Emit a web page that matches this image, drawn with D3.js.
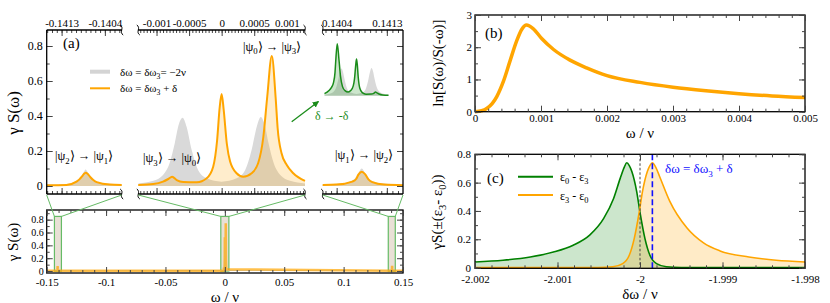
<!DOCTYPE html>
<html><head><meta charset="utf-8">
<script src="https://cdn.jsdelivr.net/npm/d3@7"></script>
<style>
body{margin:0;background:#fff;}
svg, svg text{font-family:"Liberation Serif",serif;}
</style></head><body>
<svg id="fig" width="830" height="303"></svg>
<script>
// ---------- data ----------
// panel (a): three windows of the spectrum gamma*S(omega)
const segLeft = [-0.14161, -0.14005];
const segMid = [-0.00128, 0.00128];
const segRight = [0.14015, 0.14159];

const leftOrange = [[-0.14161,0.004],[-0.1412,0.006],[-0.14099,0.025],[-0.14093,0.038],[-0.14088,0.053],[-0.14084,0.068],[-0.1408,0.076],[-0.14076,0.07],[-0.1407,0.05],[-0.14064,0.034],[-0.14057,0.022],[-0.1403,0.008],[-0.14005,0.006]];
const leftGray = [[-0.14161,0.008],[-0.1412,0.012],[-0.14105,0.022],[-0.14096,0.034],[-0.14088,0.058],[-0.14084,0.08],[-0.1408,0.095],[-0.14076,0.08],[-0.14072,0.058],[-0.14064,0.034],[-0.14055,0.022],[-0.1404,0.014],[-0.14005,0.009]];

const midOrange = [[-0.00128,0.006],[-0.00105,0.011],[-0.0009,0.025],[-0.00082,0.04],[-0.00076,0.053],[-0.00069,0.034],[-0.00059,0.023],[-0.00038,0.021],[-0.00023,0.044],[-0.00013,0.11],[-0.00007,0.26],[-0.00003,0.45],[0,0.526],[0.00003,0.44],[0.00008,0.24],[0.00013,0.14],[0.00023,0.073],[0.00033,0.053],[0.00046,0.073],[0.00056,0.13],[0.00064,0.28],[0.0007,0.51],[0.00077,0.743],[0.00083,0.5],[0.00086,0.33],[0.00092,0.187],[0.001,0.12],[0.0011,0.073],[0.00128,0.029]];
const midGray = [[-0.00128,0.015],[-0.00105,0.03],[-0.0009,0.063],[-0.0008,0.13],[-0.00072,0.244],[-0.00066,0.35],[-0.0006,0.39],[-0.00054,0.34],[-0.00046,0.206],[-0.00036,0.09],[-0.00023,0.044],[0,0.025],[0.00023,0.044],[0.00036,0.09],[0.00046,0.206],[0.00054,0.34],[0.0006,0.395],[0.00066,0.35],[0.00072,0.244],[0.0008,0.13],[0.0009,0.063],[0.00105,0.03],[0.00128,0.015]];

const rightOrange = [[0.14015,0.006],[0.1404,0.008],[0.14068,0.025],[0.14075,0.04],[0.14079,0.065],[0.14085,0.082],[0.14091,0.068],[0.14097,0.038],[0.14104,0.022],[0.14125,0.008],[0.14159,0.005]];
const rightGray = [[0.14015,0.009],[0.1404,0.013],[0.1406,0.022],[0.1407,0.036],[0.14077,0.06],[0.14081,0.085],[0.14085,0.1],[0.14089,0.085],[0.14093,0.06],[0.141,0.036],[0.1411,0.022],[0.1413,0.013],[0.14159,0.009]];

const topTicksLeft = [-0.1413, -0.1404];
const topTicksMid = [-0.001, -0.0005, 0, 0.0005, 0.001];
const topTicksRight = [0.1404, 0.1413];

// lower overview of panel (a)
const lowXTicks = [-0.15, -0.1, -0.05, 0, 0.05, 0.1, 0.15];
const lowEnds = [-0.15, 0.15];
const zoomBoxes = [[-0.1435, -0.1376], [-0.0034, 0.0034], [0.1376, 0.1435]];

// panel (b)
const bOmega = [0,0.0001,0.000177,0.00026,0.00033,0.00043,0.00053,0.00063,0.00071,0.00078,0.00088,0.00101,0.00119,0.00144,0.00169,0.002,0.0025,0.003,0.0035,0.004,0.0045,0.005];
const bLnRatio = [0.0,0.03,0.1,0.25,0.47,0.94,1.57,2.19,2.56,2.69,2.58,2.27,1.93,1.6,1.36,1.12,0.91,0.76,0.65,0.56,0.49,0.44];

// panel (c)
const cGreen = [[-2.002,0.04],[-2.00166,0.052],[-2.00133,0.075],[-2.00105,0.11],[-2.00081,0.158],[-2.00061,0.229],[-2.00044,0.347],[-2.00032,0.488],[-2.00024,0.63],[-2.00019,0.71],[-2.00016,0.74],[-2.00013,0.72],[-2.0001,0.68],[-2.00004,0.536],[-2.0,0.39],[-1.99994,0.205],[-1.99988,0.087],[-1.9998,0.028],[-1.99968,0.006],[-1.9995,0.001],[-1.998,0]];
const cOrange = [[-2.002,0],[-2.00051,0.001],[-2.00033,0.006],[-2.00021,0.028],[-2.00013,0.087],[-2.00007,0.205],[-2.00001,0.39],[-1.99997,0.536],[-1.99991,0.68],[-1.99988,0.72],[-1.99985,0.74],[-1.99981,0.71],[-1.99976,0.64],[-1.99964,0.47],[-1.99943,0.28],[-1.99923,0.175],[-1.99903,0.118],[-1.99868,0.075],[-1.99835,0.052],[-1.998,0.04]];
const cCenter = -2.0;
const cShifted = -1.99985;

// ---------- helpers ----------
const svg = d3.select("#fig");
const FONT = "'Liberation Serif', serif";
const ORANGE = "#ffa500";
const stepVals = (a, b, s) => d3.range(Math.round(a / s), Math.round(b / s) + 1).map(k => +(k * s).toFixed(7));

function ticks(axisFn, scale, pos, major, minor, labelled, fs, pad) {
  const g = svg.append("g");
  const gm = g.append("g").attr("transform", pos)
    .call(axisFn(scale).tickValues(minor).tickSizeInner(-3).tickSizeOuter(0).tickFormat(""));
  gm.select(".domain").remove();
  const gM = g.append("g").attr("transform", pos)
    .call(axisFn(scale).tickValues(major).tickSizeInner(-6).tickSizeOuter(0).tickPadding(pad || 4)
      .tickFormat(labelled ? (d => String(d)) : ""));
  gM.select(".domain").remove();
  g.selectAll("g").attr("font-family", null);
  gM.selectAll("text").style("font-family", FONT).attr("font-size", fs).attr("fill", "#000");
  g.selectAll("line").attr("stroke", "#444");
  return g;
}

function rich(sel, parts, dy) {
  let pending = 0;
  parts.forEach(p => {
    if (typeof p === "string") {
      sel.append("tspan").attr("dy", pending).text(p);
      pending = 0;
    } else {
      sel.append("tspan").attr("dy", dy).attr("font-size", "0.7em").text(p.sub);
      pending = -dy;
    }
  });
  return sel;
}

function label(x, y, fs, parts, opts) {
  opts = opts || {};
  const t = svg.append("text").attr("x", x).attr("y", y).attr("font-size", fs)
    .style("font-family", FONT)
    .attr("fill", opts.fill || "#000").attr("text-anchor", opts.anchor || "start");
  if (opts.rotate) t.attr("transform", `rotate(-90,${x},${y})`);
  return rich(t, parts, opts.dy || fs * 0.28);
}

function breakMark(x, y) {
  svg.append("path")
    .attr("d", `M${x - 1.5},${y - 5} C${x + 3},${y - 2} ${x - 3},${y + 2} ${x + 1.5},${y + 5}`)
    .attr("fill", "none").attr("stroke", "#000").attr("stroke-width", 1);
}

// ---------- panel (a) upper ----------
const aTop = 30, aBot = 194, aLeft = 46.7, aRight = 403;
const yA = d3.scaleLinear().domain([0, 0.8]).range([186, 46]);
const segs = [
  { dom: segLeft, rng: [46.7, 121.7], orange: leftOrange, gray: leftGray, major: topTicksLeft, minor: stepVals(-0.1416, -0.1401, 0.0001) },
  { dom: segMid, rng: [138.3, 305], orange: midOrange, gray: midGray, major: topTicksMid, minor: stepVals(-0.00125, 0.00125, 0.00005) },
  { dom: segRight, rng: [322.7, 403], orange: rightOrange, gray: rightGray, major: topTicksRight, minor: stepVals(0.1402, 0.1415, 0.0001) }
];

segs.forEach(s => {
  s.x = d3.scaleLinear().domain(s.dom).range(s.rng);
  const area = d3.area().x(d => s.x(d[0])).y0(yA(0)).y1(d => yA(d[1])).curve(d3.curveMonotoneX);
  const line = d3.line().x(d => s.x(d[0])).y(d => yA(d[1])).curve(d3.curveMonotoneX);
  svg.append("path").datum(s.gray).attr("d", area).attr("fill", "#d9d9d9");
  svg.append("path").datum(s.orange).attr("d", area).attr("fill", ORANGE).attr("fill-opacity", 0.2);
  svg.append("path").datum(s.orange).attr("d", line).attr("fill", "none").attr("stroke", ORANGE).attr("stroke-width", 2);
  ticks(d3.axisTop, s.x, `translate(0,${aTop})`, s.major, s.minor, true, 11, 3);
  ticks(d3.axisBottom, s.x, `translate(0,${aBot})`, s.major, s.minor, false, 11);
  svg.append("line").attr("x1", s.rng[0]).attr("x2", s.rng[1]).attr("y1", aTop).attr("y2", aTop).attr("stroke", "#000").attr("stroke-width", 1.3);
  svg.append("line").attr("x1", s.rng[0]).attr("x2", s.rng[1]).attr("y1", aBot).attr("y2", aBot).attr("stroke", "#000").attr("stroke-width", 1.3);
});
[segs[0].rng[1], segs[1].rng[0], segs[1].rng[1], segs[2].rng[0]].forEach(x => { breakMark(x, aTop); breakMark(x, aBot); });

const yAfull = yA.copy().domain([yA.invert(aBot), yA.invert(aTop)]).range([aBot, aTop]);
ticks(d3.axisLeft, yAfull, `translate(${aLeft},0)`, [0, 0.2, 0.4, 0.6, 0.8], stepVals(0, 0.8, 0.1), true, 12, 4);
ticks(d3.axisRight, yAfull, `translate(${aRight},0)`, [0, 0.2, 0.4, 0.6, 0.8], stepVals(0, 0.8, 0.1), false, 12);
svg.append("line").attr("x1", aLeft).attr("x2", aLeft).attr("y1", aTop).attr("y2", aBot).attr("stroke", "#000").attr("stroke-width", 1.3);
svg.append("line").attr("x1", aRight).attr("x2", aRight).attr("y1", aTop).attr("y2", aBot).attr("stroke", "#000").attr("stroke-width", 1.3);

// inset: delta -> -delta (mirror of the middle window)
const xIn = d3.scaleLinear().domain(segMid).range([324.5, 388.5]);
const xInMirror = d3.scaleLinear().domain(segMid).range([388.5, 324.5]);
const yIn = d3.scaleLinear().domain([0, 1]).range([95.7, 25.7]);
svg.append("path").datum(midGray)
  .attr("d", d3.area().x(d => xIn(d[0])).y0(yIn(0)).y1(d => yIn(d[1])).curve(d3.curveMonotoneX))
  .attr("fill", "#d9d9d9");
svg.append("path").datum(midOrange)
  .attr("d", d3.area().x(d => xInMirror(d[0])).y0(yIn(0)).y1(d => yIn(d[1])).curve(d3.curveMonotoneX))
  .attr("fill", "#008000").attr("fill-opacity", 0.2);
svg.append("path").datum(midOrange)
  .attr("d", d3.line().x(d => xInMirror(d[0])).y(d => yIn(d[1])).curve(d3.curveMonotoneX))
  .attr("fill", "none").attr("stroke", "#1a8c1a").attr("stroke-width", 1.5);

svg.append("defs").append("marker").attr("id", "ah").attr("viewBox", "0 0 10 10")
  .attr("refX", 9).attr("refY", 5).attr("markerWidth", 5).attr("markerHeight", 5).attr("orient", "auto")
  .append("path").attr("d", "M0,0 L10,5 L0,10 Z").attr("fill", "#1a8c1a");
svg.append("line").attr("x1", 291.7).attr("y1", 121.7).attr("x2", 318.5).attr("y2", 101.5)
  .attr("stroke", "#1a8c1a").attr("stroke-width", 1.3).attr("marker-end", "url(#ah)");
label(315, 120, 12, ["δ → -δ"], { fill: "#1a8c1a" });

// labels, legend
label(63, 48, 15, ["(a)"]);
svg.append("line").attr("x1", 90).attr("x2", 110).attr("y1", 71.7).attr("y2", 71.7).attr("stroke", "#d4d4d4").attr("stroke-width", 4);
label(120, 75.5, 11, ["δω = δω", { sub: "3" }, "= −2ν"]);
svg.append("line").attr("x1", 90).attr("x2", 110).attr("y1", 88.3).attr("y2", 88.3).attr("stroke", ORANGE).attr("stroke-width", 2);
label(120, 92, 11, ["δω = δω", { sub: "3" }, " + δ"]);
label(55, 160, 12.5, ["|ψ", { sub: "2" }, "⟩ → |ψ", { sub: "1" }, "⟩"]);
label(143, 162, 12.5, ["|ψ", { sub: "3" }, "⟩ → |ψ", { sub: "0" }, "⟩"]);
label(243, 50.5, 12.5, ["|ψ", { sub: "0" }, "⟩ → |ψ", { sub: "3" }, "⟩"]);
label(335, 159, 12.5, ["|ψ", { sub: "1" }, "⟩ → |ψ", { sub: "2" }, "⟩"]);
label(19, 113, 17, ["γ S(ω)"], { rotate: true, anchor: "middle" });

// ---------- panel (a) lower overview ----------
const lTop = 210, lBot = 273;
const xL = d3.scaleLinear().domain([-0.15, 0.15]).range([aLeft, aRight]);
const yL = d3.scaleLinear().domain([-0.03, 0.95]).range([lBot, lTop]);
svg.append("g").selectAll("rect").data(zoomBoxes).join("rect")
  .attr("x", d => xL(d[0])).attr("width", d => xL(d[1]) - xL(d[0]))
  .attr("y", yL(0.85)).attr("height", yL(0) - yL(0.85))
  .attr("fill", "#e9e0d6").attr("stroke", "#66bb66").attr("stroke-width", 1.2);
const lowGray = [[lowEnds[0], 0.005]].concat(leftGray, midGray, rightGray, [[lowEnds[1], 0.005]]);
const lowOrange = [[lowEnds[0], 0.004]].concat(leftOrange, midOrange, rightOrange, [[lowEnds[1], 0.004]]);
svg.append("path").datum(lowGray)
  .attr("d", d3.area().x(d => xL(d[0])).y0(yL(0)).y1(d => yL(d[1])))
  .attr("fill", "#c8c8c8");
svg.append("path").datum(lowOrange)
  .attr("d", d3.line().x(d => xL(d[0])).y(d => yL(d[1])))
  .attr("fill", "none").attr("stroke", ORANGE).attr("stroke-opacity", 0.7).attr("stroke-width", 2.5);
svg.append("rect").attr("x", aLeft).attr("y", lTop).attr("width", aRight - aLeft).attr("height", lBot - lTop)
  .attr("fill", "none").attr("stroke", "#000").attr("stroke-width", 1.3);
ticks(d3.axisBottom, xL, `translate(0,${lBot})`, lowXTicks, stepVals(-0.15, 0.15, 0.01), true, 11, 5);
ticks(d3.axisTop, xL, `translate(0,${lTop})`, lowXTicks, stepVals(-0.15, 0.15, 0.01), false, 11);
ticks(d3.axisLeft, yL, `translate(${aLeft},0)`, [0, 0.2, 0.4, 0.6, 0.8], stepVals(0, 0.9, 0.1), true, 10, 3);
ticks(d3.axisRight, yL, `translate(${aRight},0)`, [0, 0.2, 0.4, 0.6, 0.8], stepVals(0, 0.9, 0.1), false, 11);
label(225, 301.5, 15, ["ω / ν"], { anchor: "middle" });
label(18, 242, 15, ["γ S(ω)"], { rotate: true, anchor: "middle" });

// green zoom connectors
segs.forEach((s, i) => {
  const b = zoomBoxes[i];
  [[s.rng[0], b[0]], [s.rng[1], b[1]]].forEach(p => {
    svg.append("line").attr("x1", p[0]).attr("y1", aBot + 1).attr("x2", xL(p[1])).attr("y2", yL(0.85))
      .attr("stroke", "#66bb66").attr("stroke-width", 1);
  });
});

// ---------- panel (b) ----------
const bL = 475, bR = 805, bT = 15, bB = 111.7;
const xB = d3.scaleLinear().domain([0, 0.005]).range([bL, bR]);
const yB = d3.scaleLinear().domain([0, 3]).range([bB, bT]);
svg.append("path").datum(d3.zip(bOmega, bLnRatio))
  .attr("d", d3.line().x(d => xB(d[0])).y(d => yB(d[1])).curve(d3.curveMonotoneX))
  .attr("fill", "none").attr("stroke", ORANGE).attr("stroke-width", 3.5);
svg.append("rect").attr("x", bL).attr("y", bT).attr("width", bR - bL).attr("height", bB - bT)
  .attr("fill", "none").attr("stroke", "#000").attr("stroke-width", 1.3);
const bXt = [0, 0.001, 0.002, 0.003, 0.004, 0.005];
ticks(d3.axisBottom, xB, `translate(0,${bB})`, bXt, stepVals(0, 0.005, 0.0002), true, 11, 3);
ticks(d3.axisTop, xB, `translate(0,${bT})`, bXt, stepVals(0, 0.005, 0.0002), false, 11);
ticks(d3.axisLeft, yB, `translate(${bL},0)`, [0, 1, 2, 3], stepVals(0, 3, 0.5), true, 11, 3);
ticks(d3.axisRight, yB, `translate(${bR},0)`, [0, 1, 2, 3], stepVals(0, 3, 0.5), false, 11);
label(485, 38, 15, ["(b)"]);
label(640, 138, 15, ["ω / ν"], { anchor: "middle" });
label(443, 63, 15, ["ln[S(ω)/S(-ω)]"], { rotate: true, anchor: "middle" });

// ---------- panel (c) ----------
const cL = 475, cR = 805, cT = 154.3, cB = 268.3;
const xC = d3.scaleLinear().domain([-2.002, -1.998]).range([cL, cR]);
const yC = d3.scaleLinear().domain([0, 0.8]).range([267.6, cT]);
const cArea = d3.area().x(d => xC(d[0])).y0(cB).y1(d => yC(d[1])).curve(d3.curveMonotoneX);
const cLine = d3.line().x(d => xC(d[0])).y(d => yC(d[1])).curve(d3.curveMonotoneX);
svg.append("path").datum(cGreen).attr("d", cArea).attr("fill", "#008000").attr("fill-opacity", 0.2);
svg.append("path").datum(cOrange).attr("d", cArea).attr("fill", ORANGE).attr("fill-opacity", 0.22);
svg.append("path").datum(cGreen).attr("d", cLine).attr("fill", "none").attr("stroke", "#008000").attr("stroke-width", 1.6);
svg.append("path").datum(cOrange).attr("d", cLine).attr("fill", "none").attr("stroke", ORANGE).attr("stroke-width", 1.6);
svg.append("line").attr("x1", xC(cCenter)).attr("x2", xC(cCenter)).attr("y1", cT).attr("y2", cB)
  .attr("stroke", "#444").attr("stroke-width", 1).attr("stroke-dasharray", "2.5,2");
svg.append("line").attr("x1", xC(cShifted)).attr("x2", xC(cShifted)).attr("y1", cT).attr("y2", cB)
  .attr("stroke", "#1010ff").attr("stroke-width", 1.6).attr("stroke-dasharray", "6,3");
svg.append("rect").attr("x", cL).attr("y", cT).attr("width", cR - cL).attr("height", cB - cT)
  .attr("fill", "none").attr("stroke", "#000").attr("stroke-width", 1.3);
const cXt = [-2.002, -2.001, -2, -1.999, -1.998];
ticks(d3.axisBottom, xC, `translate(0,${cB})`, cXt, stepVals(-2.002, -1.998, 0.0002), true, 11, 7);
ticks(d3.axisTop, xC, `translate(0,${cT})`, cXt, stepVals(-2.002, -1.998, 0.0002), false, 11);
ticks(d3.axisLeft, yC, `translate(${cL},0)`, [0, 0.2, 0.4, 0.6, 0.8], stepVals(0, 0.8, 0.1), true, 11, 4);
ticks(d3.axisRight, yC, `translate(${cR},0)`, [0, 0.2, 0.4, 0.6, 0.8], stepVals(0, 0.8, 0.1), false, 11);
label(487, 183, 15, ["(c)"]);
svg.append("line").attr("x1", 518).attr("x2", 553).attr("y1", 176.7).attr("y2", 176.7).attr("stroke", "#008000").attr("stroke-width", 2);
label(560, 181, 12, ["ε", { sub: "0" }, " - ε", { sub: "3" }]);
svg.append("line").attr("x1", 518).attr("x2", 553).attr("y1", 195).attr("y2", 195).attr("stroke", ORANGE).attr("stroke-width", 2);
label(560, 199.5, 12, ["ε", { sub: "3" }, " - ε", { sub: "0" }]);
label(665, 173, 13, ["δω = δω", { sub: "3" }, " + δ"], { fill: "#1010ff" });
label(640, 299, 15, ["δω / ν"], { anchor: "middle" });
label(442, 212, 15, ["γS(±(ε", { sub: "3" }, "- ε", { sub: "0" }, "))"], { rotate: true, anchor: "middle" });
</script>
</body></html>
